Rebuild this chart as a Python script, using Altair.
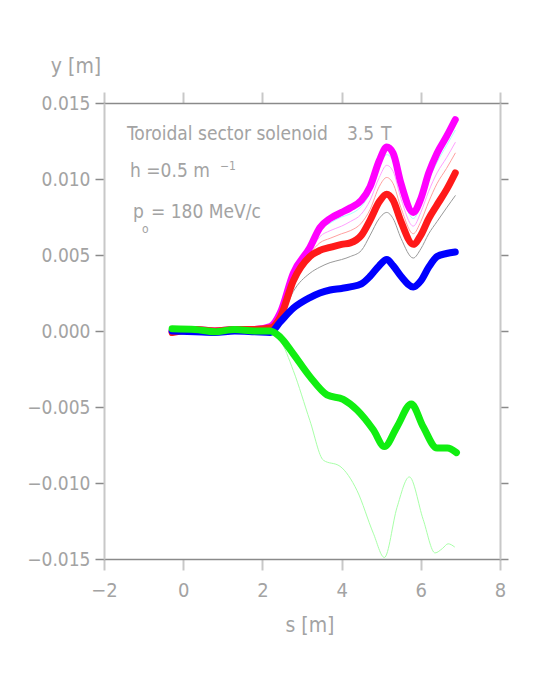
import altair as alt
import pandas as pd

FONT = "Liberation Sans Narrow, DejaVu Sans Condensed, Arial Narrow, sans-serif"
TXT = "#a3a3a3"

X_DOMAIN = [-2, 8]
Y_DOMAIN = [-0.015, 0.015]
X_TICKS = [-2, 0, 2, 4, 6, 8]
Y_TICKS = [-0.015, -0.010, -0.005, 0.0, 0.005, 0.010, 0.015]

# thick curves share this grid
main_s = [-0.28, 0.3, 0.8, 1.3, 1.8, 2.2, 2.45, 2.78, 3.2, 3.45, 3.71, 4.0, 4.22,
          4.5, 4.72, 4.95, 5.14, 5.3, 5.5, 5.81, 6.0, 6.2, 6.41, 6.65, 6.87]
magenta_y = [0.0, 0.0001, 0.0, 0.0001, 0.0001, 0.0003, 0.0012, 0.0038, 0.0055, 0.0068,
             0.0074, 0.0078, 0.0081, 0.0086, 0.0095, 0.0112, 0.0121, 0.0117, 0.0097,
             0.0078, 0.0087, 0.0104, 0.0117, 0.0128, 0.0139]
red_y = [-0.0001, 0.0001, 0.0, 0.0001, 0.0001, 0.0002, 0.0009, 0.0033, 0.0049, 0.0053,
         0.0055, 0.0057, 0.0058, 0.0063, 0.0073, 0.0085, 0.0090, 0.0086, 0.0072,
         0.0057, 0.0063, 0.0074, 0.0083, 0.0093, 0.0104]
blue_y = [0.0, -0.00005, -0.0001, 0.0, -0.00005, -0.0001, 0.0006, 0.0015, 0.0022, 0.0025,
          0.0027, 0.0028, 0.0029, 0.0031, 0.0036, 0.0043, 0.0047, 0.0043, 0.0036,
          0.0029, 0.0033, 0.0042, 0.0049, 0.0051, 0.0052]

# thin curves between red and magenta
thin_s = [2.0, 2.2, 2.45, 2.78, 3.2, 3.45, 3.71, 4.0, 4.22, 4.5, 4.72, 4.95, 5.14,
          5.3, 5.5, 5.81, 6.0, 6.2, 6.41, 6.65, 6.87]
cyan_y = [0.0002, 0.0003, 0.0011, 0.0037, 0.0053, 0.0066, 0.0071, 0.0075, 0.0077, 0.0082,
          0.0091, 0.0108, 0.0116, 0.0112, 0.0093, 0.0074, 0.0083, 0.0099, 0.0111, 0.0122, 0.0132]
pink_y = [0.0002, 0.0003, 0.0010, 0.0036, 0.0052, 0.0062, 0.0066, 0.0069, 0.0072, 0.0077,
          0.0086, 0.0101, 0.0109, 0.0105, 0.0087, 0.0069, 0.0078, 0.0092, 0.0104, 0.0114, 0.0124]
salmon_y = [0.0002, 0.0003, 0.0010, 0.0035, 0.0051, 0.0058, 0.0061, 0.0064, 0.0066, 0.0071,
            0.0080, 0.0095, 0.0101, 0.0097, 0.0081, 0.0064, 0.0072, 0.0085, 0.0097, 0.0107, 0.0117]
grey_y = [0.0001, 0.0002, 0.0007, 0.0026, 0.0038, 0.0042, 0.0045, 0.0047, 0.0049, 0.0053,
          0.0063, 0.0074, 0.0078, 0.0074, 0.0061, 0.0048, 0.0054, 0.0064, 0.0072, 0.0081, 0.0089]

green_s = [-0.28, 0.3, 0.8, 1.3, 1.8, 2.2, 2.45, 2.78, 3.2, 3.63, 4.04, 4.39, 4.8, 5.08,
           5.4, 5.76, 6.06, 6.41, 6.67, 6.9]
green_y = [0.00015, 0.0001, -0.00005, 0.0001, 0.0, 0.0, -0.0004, -0.0015, -0.0030, -0.0042,
           -0.0045, -0.0052, -0.0065, -0.0076, -0.0063, -0.0048, -0.0063, -0.0077, -0.0077, -0.0080]

lgreen_s = [2.0, 2.2, 2.45, 2.78, 3.2, 3.54, 3.96, 4.39, 4.8, 5.08, 5.4, 5.71, 6.06, 6.36,
            6.55, 6.69, 6.85]
lgreen_y = [0.0, -0.0001, -0.0006, -0.0026, -0.0059, -0.0085, -0.0089, -0.0105, -0.0133,
            -0.0149, -0.0116, -0.0096, -0.0124, -0.0146, -0.0143, -0.0140, -0.0142]

xs = alt.Scale(domain=X_DOMAIN, nice=False, zero=False)
ys = alt.Scale(domain=Y_DOMAIN, nice=False, zero=False)


def line(s, y, color, width):
    df = pd.DataFrame({"s": s, "y": y})
    return alt.Chart(df).mark_line(
        color=color, strokeWidth=width, interpolate="monotone", strokeCap="round"
    ).encode(x=alt.X("s:Q", scale=xs, axis=None), y=alt.Y("y:Q", scale=ys, axis=None))


frame_df = pd.DataFrame({"s": X_DOMAIN, "y": Y_DOMAIN})

axes_bl = alt.Chart(frame_df).mark_point(opacity=0).encode(
    x=alt.X("s:Q", scale=xs, axis=alt.Axis(
        orient="bottom", values=X_TICKS, format="d", tickSize=11, tickColor="#c8c8c8",
        tickWidth=2, domainColor="#8a8a8a", domainWidth=1.5, labelFont=FONT,
        labelFontSize=20, labelColor=TXT, labelPadding=10, title=None, grid=False,
        labelFlush=False)),
    y=alt.Y("y:Q", scale=ys, axis=alt.Axis(
        orient="left", values=Y_TICKS, format=".3f", tickSize=9, tickColor="#8a8a8a",
        tickWidth=1.5, domainColor="#c8c8c8", domainWidth=2, labelFont=FONT,
        labelFontSize=19, labelColor=TXT, labelPadding=5, title=None, grid=False,
        labelFlush=False)),
)
axes_tr = alt.Chart(frame_df).mark_point(opacity=0).encode(
    x=alt.X("s:Q", scale=xs, axis=alt.Axis(
        orient="top", values=X_TICKS, labels=False, tickSize=11, tickColor="#c8c8c8",
        tickWidth=2, domainColor="#8a8a8a", domainWidth=1.5, title=None, grid=False)),
    y=alt.Y("y:Q", scale=ys, axis=alt.Axis(
        orient="right", values=Y_TICKS, labels=False, tickSize=8, tickColor="#8a8a8a",
        tickWidth=1.5, domainColor="#c8c8c8", domainWidth=2, title=None, grid=False)),
)


def label(text, x, y, size, align="left"):
    return alt.Chart(pd.DataFrame({"a": [0]})).mark_text(
        font=FONT, fontSize=size, color=TXT, align=align, baseline="alphabetic"
    ).encode(x=alt.value(x), y=alt.value(y), text=alt.value(text))


texts = [
    label("Toroidal sector solenoid", 23, 37, 19),
    label("3.5", 243, 37, 19),
    label("T", 277, 37, 19),
    label("h =0.5 m", 26, 74, 19),
    label("\u22121", 116, 67, 12),
    label("p", 29, 115, 19),
    label("o", 38, 130, 12),
    label("= 180 MeV/c", 47, 115, 19),
    label("y [m]", -28, -30, 21, "center"),
    label("s [m]", 206, 529, 21, "center"),
]

layers = [
    axes_bl, axes_tr,
    line(thin_s, grey_y, "#999999", 1),
    line(thin_s, salmon_y, "#ffa0a0", 1),
    line(thin_s, pink_y, "#ffa0ff", 1),
    line(thin_s, cyan_y, "#a8ffff", 1),
    line(lgreen_s, lgreen_y, "#a8ffa8", 1),
    line(main_s, magenta_y, "#ff00ff", 7),
    line(main_s, red_y, "#ff1a1a", 7),
    line(main_s, blue_y, "#0000ff", 7),
    line(green_s, green_y, "#11ee11", 7),
] + texts

chart = alt.layer(*layers).resolve_axis(x="independent", y="independent").properties(
    width=396, height=456,
    autosize=alt.AutoSizeParams(type="none"),
    padding={"left": 96, "top": 95, "right": 40, "bottom": 120},
    background="white",
).configure_view(stroke=None)

chart.save("out.html", embed_options={"renderer": "svg", "actions": False})
